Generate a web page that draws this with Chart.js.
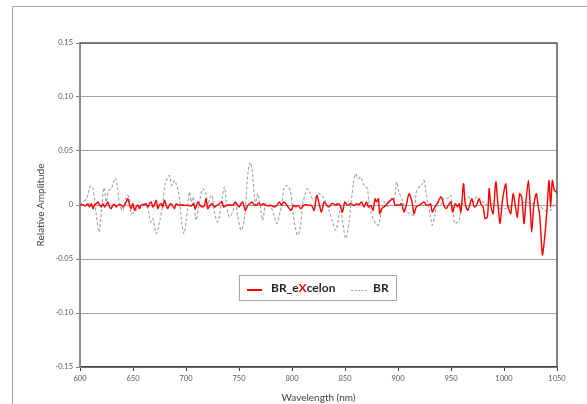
<!DOCTYPE html>
<html>
<head>
<meta charset="utf-8">
<script src="https://cdn.jsdelivr.net/npm/chart.js@4.4.1/dist/chart.umd.min.js"></script>
<style>
  html, body { margin: 0; padding: 0; background: #fff; }
  #wrap { width: 587px; height: 404px; position: relative; }
</style>
</head>
<body>
<div id="wrap"><canvas id="chart" width="587" height="404"></canvas></div>
<script>
// ---------------------------
// Data
// ---------------------------
const seriesNames = ["BR_eXcelon", "BR"];
const yTicks = [-0.15, -0.10, -0.05, 0, 0.05, 0.10, 0.15];
const xTicks = [600, 650, 700, 750, 800, 850, 900, 950, 1000, 1050];

// BR_eXcelon (red)
const exNm = [
  600, 602.8, 605, 607.5, 609.1, 610.7, 612.2, 613.8, 615.4, 617,
  618.5, 620.1, 621.7, 623.2, 624.8, 626.4, 627.9, 629.5, 631.1, 632.6,
  634.2, 635.8, 638.3, 640.5, 642.1, 643.6, 645.2, 646.8, 648.3, 649.9,
  651.5, 653, 654.6, 656.2, 657.7, 660.9, 662.4, 664, 665.6, 667.2,
  668.7, 670.3, 671.9, 673.4, 675, 676.6, 678.1, 679.7, 681.3, 682.8,
  684.4, 686, 689.1, 690.7, 693.2, 695.4, 698.5, 701.7, 704.8, 707,
  708.9, 711.1, 713.3, 715.2, 717.4, 718.9, 720.5, 722.7, 724.6, 726.8,
  729, 731.5, 733.7, 735.6, 737.8, 740.3, 742.5, 744.7, 746.5, 748.7,
  750.3, 751.9, 753.4, 756, 758.2, 760.4, 762.2, 764.4, 766.6, 768.5,
  770.7, 772.9, 775.4, 778.6, 780.1, 783.3, 785.8, 788, 790.2, 792,
  794.2, 796.4, 799, 801.5, 803.7, 805.8, 808.4, 810.9, 813.1, 815.3,
  817.8, 819.3, 820.9, 823.4, 825.6, 827.8, 830.3, 832.8, 835, 837.2,
  839.1, 841.3, 842.9, 845.4, 847.6, 849.8, 852.3, 855.4, 858.6, 861.1,
  863.3, 865.5, 868, 870.2, 872.1, 874.3, 876.5, 878.3, 879.6, 881.5,
  882.7, 884.6, 886.8, 889, 890.9, 893.1, 895.3, 897.2, 899.4, 900.9,
  903.4, 905.6, 907.8, 910.4, 912.9, 915.1, 917.3, 919.8, 922.3, 924.5,
  926.7, 929.2, 930.8, 932.3, 934.8, 937, 940.2, 941.7, 943.3, 945.5,
  947.4, 949.9, 951.5, 954, 956.2, 957.7, 959.3, 961.8, 963.4, 965.6,
  967.1, 969.7, 971.9, 974, 976.6, 978.1, 980.3, 982.2, 984.4, 986,
  987.5, 989.7, 992.3, 994.1, 996.3, 998.5, 1001.7, 1003.2, 1004.8, 1006.4,
  1008.6, 1011.1, 1012.6, 1014.8, 1016.7, 1018.9, 1020.5, 1023, 1024.6, 1026.1,
  1028.3, 1030.5, 1032.4, 1033.7, 1036.2, 1038.1, 1039.3, 1040.9, 1042.5, 1044,
  1045.6, 1047.5, 1049.4, 1050
];
const exAmp = [
  0, 0.0003, -0.0009, 0.0012, -0.0018, 0.0012, -0.0034, 0, 0.0012, 0.0028,
  0, -0.0018, 0.0012, -0.0018, 0.0003, 0.0028, -0.0018, -0.0034, 0, 0.0003,
  -0.0018, 0, 0.0003, -0.0018, 0, 0.0028, 0.0058, 0, -0.0034, 0.0012,
  -0.005, -0.0018, 0, -0.0034, 0, 0.0003, 0.0012, -0.0018, 0.0012, 0.0028,
  -0.0018, 0.0003, 0.0043, -0.0034, 0, 0.0012, -0.0018, 0.0043, 0, -0.0034,
  0, 0.0012, -0.0034, 0.0012, -0.0003, 0.0003, -0.0003, -0.0003, -0.0009, 0.0012,
  -0.0034, 0.0028, -0.0003, -0.0018, -0.0003, 0.0058, -0.0034, -0.0003, 0.0012, -0.0018,
  -0.0003, 0.0012, 0.0034, -0.0018, -0.0003, 0.0003, -0.0003, 0.0003, 0.0028, -0.0003,
  -0.0018, 0.0012, 0.0028, -0.005, -0.0003, 0.0012, 0.0028, 0.0003, -0.0003, 0.0018,
  -0.0003, 0.0012, -0.0003, -0.0009, -0.0003, -0.0018, -0.0003, 0.0028, -0.0003, 0.0028,
  0.0012, -0.0018, -0.005, -0.0003, -0.0018, -0.0003, -0.0034, -0.0003, 0.0003, -0.0003,
  -0.0003, -0.0018, -0.005, 0.0089, 0.0012, -0.0065, 0.0028, -0.0003, -0.0018, 0.0012,
  0.0012, -0.0003, 0.0012, -0.0003, -0.0065, 0.0028, -0.0003, 0.0012, -0.0003, 0.0012,
  0.0003, 0.0028, -0.0018, 0.0028, -0.0018, -0.0003, -0.005, 0.0058, 0.0028, 0.0058,
  -0.008, -0.0034, -0.0018, 0.0003, 0.0028, 0.0043, 0.0058, -0.0003, 0.0003, -0.0003,
  0.0012, -0.0065, -0.0003, 0.0105, 0.0043, -0.008, -0.0018, -0.0003, 0.0012, 0.0028,
  -0.0003, 0.0003, 0.0012, -0.0065, -0.0018, 0.0012, 0.0074, 0.0058, -0.0003, -0.0034,
  -0.0003, 0.0028, -0.0065, 0.0012, -0.0018, 0.0012, -0.0065, 0.0197, 0.0012, -0.0049,
  -0.0018, 0.0059, -0.0018, -0.0003, 0.0059, 0.0012, -0.0018, -0.0126, -0.0111, 0.0151,
  -0.0003, -0.008, 0.0213, 0.0028, -0.0172, 0.0043, 0.0197, 0.0012, -0.0049, -0.008,
  0.0105, -0.0034, -0.0111, 0.0105, 0.0074, -0.0172, 0.0012, 0.0228, 0.0012, -0.025,
  0.0012, 0.0105, -0.0018, -0.0095, -0.0462, -0.0326, -0.0203, 0.0012, 0.0228, -0.0018,
  0.0228, 0.0136, 0.012, 0.01
];

// BR (grey dashed)
const brNm = [
  600, 606, 610, 612.2, 615.4, 617.9, 620.1, 622.6, 624.8, 627,
  629.5, 633.3, 635.1, 637.3, 640.5, 644.2, 646.8, 648.3, 651.5, 654.6,
  660.9, 664, 666.5, 668.7, 671.9, 675, 678.1, 680.3, 684.4, 686.6,
  689.1, 690.7, 693.2, 695.4, 697.9, 700.1, 703.2, 704.8, 707, 709.5,
  712.7, 715.8, 718.9, 720.5, 722.7, 724.6, 726.8, 729.9, 733.1, 736.2,
  738.4, 740.9, 744, 746.5, 748.7, 751.9, 755, 758.2, 760.7, 762.9,
  765.4, 767.6, 769.8, 772.3, 775.4, 778.6, 780.1, 782.6, 785.8, 788,
  790.2, 792.7, 795.2, 798.3, 800.5, 803, 805.2, 807.7, 809.9, 812.1,
  814.6, 817.1, 819.3, 822.5, 825.6, 827.8, 830.3, 832.8, 835, 838.2,
  841.3, 844.4, 846, 847.6, 850.7, 853.9, 855.5, 858, 860.1, 862.3,
  864.8, 868, 871.1, 872.7, 875.8, 879, 881.5, 883.7, 886.8, 890,
  893.1, 896.2, 898.7, 900.9, 903.4, 905.7, 908.8, 911.9, 915.1, 917.3,
  919.8, 922.3, 924.5, 926.7, 928.6, 930.8, 932.3, 934.8, 937, 940.2,
  943.3, 946.4, 949.6, 951.8, 953.7, 957.4, 960.6, 963.7, 966.8, 969,
  971.5, 974, 976.2, 979.4, 984.1, 987.2, 992, 996.6, 1001.3, 1006.1,
  1010.8, 1015.5, 1020.2, 1024.9, 1029.6, 1034.3, 1039, 1043.7, 1046.9, 1050
];
const brAmp = [
  0, 0.006, 0.0176, 0.015, -0.0095, -0.025, -0.0065, 0.016, 0.003, 0.0136,
  0.015, 0.025, 0.018, 0, -0.005, 0.009, 0.006, -0.008, -0.0065, -0.0033,
  0.0013, -0.0033, -0.0157, -0.0126, -0.0265, -0.0157, 0.0013, 0.0198, 0.0274, 0.018,
  0.0228, 0.0198, 0.0105, -0.011, -0.0265, -0.0157, 0.012, 0.003, 0.0074, -0.0141,
  0.003, 0.015, 0.0105, 0, 0.0074, 0.009, -0.0065, -0.0157, 0, 0.0167,
  0, -0.011, -0.0065, 0.003, -0.0095, -0.0234, -0.0141, 0.0274, 0.0397, 0.0274,
  0, 0.0105, 0, -0.0141, 0.0015, 0, -0.0015, -0.008, -0.0172, -0.0095,
  0, 0.0167, 0.018, 0.0136, -0.0033, -0.0203, -0.028, -0.0218, 0, 0.009,
  0.015, 0.0105, 0.0059, 0.0074, 0.0105, 0.009, 0.0059, 0, -0.005, -0.0157,
  -0.0234, -0.0095, -0.0015, -0.0141, -0.031, -0.0157, 0, 0.0198, 0.029, 0.0244,
  0.026, 0.018, 0.015, 0, -0.011, -0.0172, -0.0188, -0.0095, 0.003, -0.0015,
  0.0059, 0.0044, 0.0213, 0.012, 0.0059, 0, -0.0065, -0.008, -0.0095, 0.012,
  0.0167, 0.018, 0.0228, 0.0105, 0, -0.011, -0.0188, -0.0095, 0.003, 0,
  0.0059, 0.0059, 0.009, -0.005, -0.0172, -0.014, 0, 0.0059, 0.0074, 0.0013,
  0.003, 0.0074, 0.003, 0.003, 0, 0.0013, 0, -0.0033, -0.0033, -0.0015,
  0, 0, 0.003, 0.0013, 0.0013, -0.0015, -0.005, -0.005, 0, 0.001
];

// ---------------------------
// Plugins: frame, plot border, legend
// ---------------------------
const framePlugin = {
  id: "frame",
  beforeDraw(chart){
    const ctx = chart.ctx;
    ctx.save();
    ctx.fillStyle = "#fff";
    ctx.fillRect(0, 0, chart.width, chart.height);
    ctx.strokeStyle = "#a6a6a6";
    ctx.lineWidth = 1;
    ctx.strokeRect(12.5, 6.5, 620, 430);
    ctx.restore();
  },
  afterDatasetsDraw(chart){
    const {ctx, chartArea: a} = chart;
    ctx.save();
    ctx.strokeStyle = "#595959";
    ctx.lineWidth = 1.5;
    ctx.beginPath();
    ctx.moveTo(a.left, a.top);
    ctx.lineTo(a.right, a.top);
    ctx.lineTo(a.right, a.bottom);
    ctx.stroke();
    ctx.restore();
  }
};

const legendPlugin = {
  id: "boxLegend",
  afterDraw(chart){
    const ctx = chart.ctx;
    const x = 239.5, y = 275.5, w = 157, h = 25;
    ctx.save();
    ctx.fillStyle = "#fff";
    ctx.fillRect(x, y, w, h);
    ctx.strokeStyle = "#a6a6a6";
    ctx.lineWidth = 1;
    ctx.strokeRect(x, y, w, h);

    const cy = y + h / 2 + 1;
    ctx.strokeStyle = "#ff0000";
    ctx.lineWidth = 2;
    ctx.beginPath();
    ctx.moveTo(247, cy + 1); ctx.lineTo(262, cy + 1);
    ctx.stroke();

    ctx.strokeStyle = "#a6a6a6";
    ctx.lineWidth = 1;
    ctx.setLineDash([2, 1.5]);
    ctx.beginPath();
    ctx.moveTo(351, cy + 1.5); ctx.lineTo(367, cy + 1.5);
    ctx.stroke();
    ctx.setLineDash([]);

    ctx.font = "bold 12px Lato";
    ctx.textBaseline = "middle";
    ctx.textAlign = "left";
    let tx = 271;
    const parts = [["BR_e", "#262626"], ["X", "#ff0000"], ["celon", "#262626"]];
    for(const [t, c] of parts){
      ctx.fillStyle = c;
      ctx.fillText(t, tx, cy - 1);
      tx += ctx.measureText(t).width;
    }
    ctx.fillStyle = "#262626";
    ctx.fillText(seriesNames[1], 373, cy - 1);
    ctx.restore();
  }
};

// ---------------------------
// Chart
// ---------------------------
const toPts = (xs, ys) => xs.map((v, i) => ({x: v, y: ys[i]}));

new Chart(document.getElementById("chart"), {
  type: "line",
  data: {
    datasets: [
      {
        label: seriesNames[0],
        data: toPts(exNm, exAmp),
        borderColor: "#ff0000",
        borderWidth: 1.4,
        pointRadius: 0,
        tension: 0.25,
        fill: false
      },
      {
        label: seriesNames[1],
        data: toPts(brNm, brAmp),
        borderColor: "#a0a0a0",
        borderWidth: 1.1,
        borderDash: [3, 2],
        pointRadius: 0,
        tension: 0.3,
        fill: false
      }
    ]
  },
  options: {
    responsive: false,
    animation: false,
    devicePixelRatio: 1,
    layout: { padding: { left: 0, top: 43, right: 30, bottom: 0 } },
    plugins: {
      legend: { display: false },
      tooltip: { enabled: false }
    },
    scales: {
      x: {
        type: "linear",
        min: 600, max: 1050,
        afterFit: s => { s.height = 37; },
        afterBuildTicks: s => { s.ticks = xTicks.map(v => ({value: v})); },
        ticks: {
          font: { family: "Lato", size: 7.5 },
          color: "#595959",
          padding: 3,
          maxRotation: 0,
          callback: v => String(v)
        },
        grid: {
          drawOnChartArea: false,
          drawTicks: true,
          tickLength: 4,
          tickColor: "#404040"
        },
        border: { color: "#404040", width: 1.5 },
        title: {
          display: true,
          text: "Wavelength (nm)",
          font: { family: "Lato", size: 10 },
          color: "#404040",
          padding: { top: 1, bottom: 0 }
        }
      },
      y: {
        min: -0.15, max: 0.15,
        afterFit: s => { s.width = 80; },
        afterBuildTicks: s => { s.ticks = yTicks.map(v => ({value: v})); },
        ticks: {
          font: { family: "Lato", size: 7.5 },
          color: "#595959",
          padding: 3,
          callback: v => Math.abs(v) < 1e-9 ? "0" : v.toFixed(2)
        },
        grid: {
          color: "#a6a6a6",
          lineWidth: 1,
          drawTicks: true,
          tickLength: 4,
          tickColor: "#808080"
        },
        border: { color: "#8c8c8c", width: 2 },
        title: {
          display: true,
          text: "Relative Amplitude",
          font: { family: "Lato", size: 10 },
          color: "#404040",
          padding: { top: 35, bottom: 0 }
        }
      }
    }
  },
  plugins: [framePlugin, legendPlugin]
});
</script>
</body>
</html>
